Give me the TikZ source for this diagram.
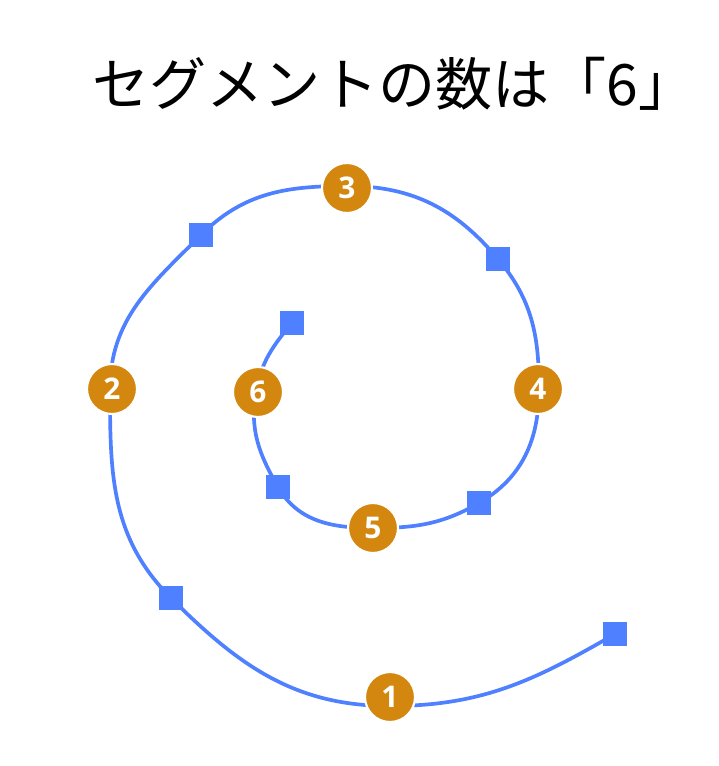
\documentclass[tikz,border=0pt]{standalone}
\usepackage{fontspec}
\setmainfont{Noto Sans CJK JP}
\newfontfamily\digitfont{Open Sans}
\definecolor{spiralblue}{HTML}{4F80FF}
\definecolor{segorange}{HTML}{D4870F}
\begin{document}
\begin{tikzpicture}[x=0.02cm,y=-0.02cm]
	\tikzstyle{handle} = [draw=none, fill=spiralblue, minimum size=0.48cm, inner sep=0]
	\tikzstyle{segnum} = [shape=circle, fill=segorange, draw=white, line width=1.2pt, minimum size=1.0cm, inner sep=0, text=white, font=\digitfont\bfseries\fontsize{17}{17}\selectfont]
	\tikzstyle{spiral} = [draw=spiralblue, line width=2.1pt]

	\useasboundingbox (0,0) rectangle (718,766);
	\node [anchor=base] (title) at (394,106) {\fontsize{32.5}{32.5}\selectfont セグメントの数は「6」};

	% points along the spiral
	\coordinate (p0) at (615,634);
	\coordinate (p1) at (390,706);
	\coordinate (p2) at (171,598);
	\coordinate (p3) at (110,389);
	\coordinate (p4) at (201,235);
	\coordinate (p5) at (347,186);
	\coordinate (p6) at (498,259);
	\coordinate (p7) at (539,389);
	\coordinate (p8) at (479,503);
	\coordinate (p9) at (373,528);
	\coordinate (p10) at (278,487);
	\coordinate (p11) at (256,392);
	\coordinate (p12) at (292,323);

	\draw [spiral] (p0) to[out=210, in=0] (p1)
		to[out=180, in=-45] (p2)
		to[out=135, in=270] (p3)
		to[out=90, in=225] (p4)
		to[out=45, in=180] (p5)
		to[out=0, in=130] (p6)
		to[out=-50, in=90] (p7)
		to[out=-90, in=30] (p8)
		to[out=210, in=0] (p9)
		to[out=180, in=-60] (p10)
		to[out=120, in=260] (p11)
		to[out=80, in=230] (p12);

	\node [handle] (h0) at (p0) {};
	\node [handle] (h1) at (p2) {};
	\node [handle] (h2) at (p4) {};
	\node [handle] (h3) at (p6) {};
	\node [handle] (h4) at (p8) {};
	\node [handle] (h5) at (p10) {};
	\node [handle] (h6) at (p12) {};

	\node [segnum] (s1) at (390,697) {1};
	\node [segnum] (s2) at (112,389) {2};
	\node [segnum] (s3) at (347,188) {3};
	\node [segnum] (s4) at (538,389) {4};
	\node [segnum] (s5) at (373,528) {5};
	\node [segnum] (s6) at (258,392) {6};
\end{tikzpicture}
\end{document}
